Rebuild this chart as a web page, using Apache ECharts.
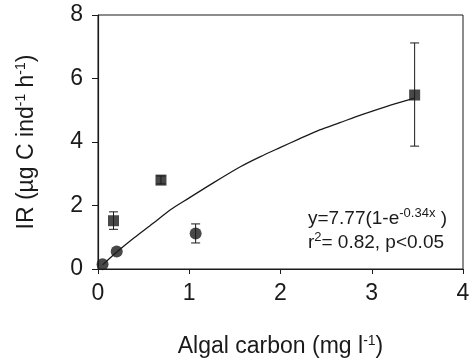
<!DOCTYPE html>
<html>
<head>
<meta charset="utf-8">
<script src="https://cdn.jsdelivr.net/npm/echarts@6/dist/echarts.min.js"></script>
<style>
  html, body { margin: 0; padding: 0; background: #fff; }
  #chart-container { width: 475px; height: 361px; }
</style>
</head>
<body>
<div id="chart-container"></div>
<script>
var dom = document.getElementById("chart-container");
var myChart = echarts.init(dom, null, { renderer: "canvas" });

// values
const xTicks = [0, 1, 2, 3, 4];
const yTicks = [0, 2, 4, 6, 8];

// circles: [x, y, low, high]  (low/high = error bar ends, null = none)
const circlePoints = [
  [0.05, 0.15, null, null],
  [0.205, 0.55, null, null],
  [1.07, 1.12, 0.82, 1.42],
];
// squares: [x, y, low, high]
const squarePoints = [
  [0.17, 1.52, 1.25, 1.8],
  [0.69, 2.8, 2.68, 2.93],
  [3.47, 5.48, 3.87, 7.12],
];
// fitted curve
const curveX = [0.05, 0.2, 0.4, 0.6, 0.79, 1.0, 1.25, 1.56, 1.78, 2.0, 2.2, 2.43, 2.65, 2.9, 3.15, 3.47];
const curveY = [0.13, 0.52, 0.99, 1.43, 1.86, 2.24, 2.69, 3.22, 3.54, 3.83, 4.09, 4.38, 4.61, 4.87, 5.11, 5.38];

const ink = "#1a1a1a";
const font = "Liberation Sans, Arial, sans-serif";

const errorBars = circlePoints.concat(squarePoints).filter((p) => p[2] !== null);

function renderErrorBar(params, api) {
  const x = api.value(0);
  const lo = api.coord([x, api.value(2)]);
  const hi = api.coord([x, api.value(3)]);
  const cap = 4.5;
  const st = { stroke: ink, lineWidth: 1 };
  return {
    type: "group",
    children: [
      { type: "line", shape: { x1: lo[0], y1: lo[1], x2: hi[0], y2: hi[1] }, style: st },
      { type: "line", shape: { x1: lo[0] - cap, y1: lo[1], x2: lo[0] + cap, y2: lo[1] }, style: st },
      { type: "line", shape: { x1: hi[0] - cap, y1: hi[1], x2: hi[0] + cap, y2: hi[1] }, style: st },
    ],
  };
}

var option = {
  animation: false,
  backgroundColor: "#fff",
  grid: {
    left: 98,
    right: 12,
    top: 15,
    bottom: 92,
    outerBoundsMode: "none",
    containLabel: false,
    show: true,
    borderColor: ink,
    borderWidth: 1,
  },
  xAxis: {
    type: "value",
    min: 0,
    max: 4,
    interval: 1,
    splitLine: { show: false },
    axisLine: { onZero: false, lineStyle: { color: ink, width: 1.2 } },
    axisTick: { show: true, inside: false, length: 5, lineStyle: { color: ink } },
    axisLabel: { color: ink, fontSize: 23, fontFamily: font, margin: 13 },
    name: "{a|Algal carbon (mg l}{s|-1}{a|)}",
    nameLocation: "middle",
    nameGap: 65,
    nameTextStyle: {
      rich: {
        a: { fontSize: 23, fontFamily: font, color: ink, lineHeight: 26 },
        s: { fontSize: 14, fontFamily: font, color: ink, lineHeight: 14, verticalAlign: "top" },
      },
    },
  },
  yAxis: {
    type: "value",
    min: 0,
    max: 8,
    interval: 2,
    splitLine: { show: false },
    axisLine: { onZero: false, lineStyle: { color: ink, width: 1.2 } },
    axisTick: { show: true, inside: false, length: 6, lineStyle: { color: ink } },
    axisLabel: { color: ink, fontSize: 23, fontFamily: font, margin: 15 },
    name: "{a|IR (µg C ind}{s|-1}{a| h}{s|-1}{a|)}",
    nameLocation: "middle",
    nameRotate: 90,
    nameGap: 58,
    nameTextStyle: {
      rich: {
        a: { fontSize: 23, fontFamily: font, color: ink, lineHeight: 26 },
        s: { fontSize: 14, fontFamily: font, color: ink, lineHeight: 14, verticalAlign: "top" },
      },
    },
  },
  graphic: [
    {
      type: "text",
      right: 28,
      top: 207,
      style: {
        text: "{a|y=7.77(1-e}{s|-0.34x}{a| )}\n{a|r}{s|2}{a|= 0.82, p<0.05}",
        align: "right",
        rich: {
          a: { fontSize: 19, fontFamily: font, fill: ink, lineHeight: 24 },
          s: { fontSize: 13, fontFamily: font, fill: ink, lineHeight: 13, verticalAlign: "top" },
        },
      },
    },
  ],
  series: [
    {
      type: "line",
      data: curveX.map((x, i) => [x, curveY[i]]),
      showSymbol: false,
      smooth: 0.3,
      lineStyle: { color: ink, width: 1.3 },
      z: 2,
    },
    {
      type: "custom",
      data: errorBars,
      renderItem: renderErrorBar,
      z: 3,
    },
    {
      type: "scatter",
      data: circlePoints.map((p) => [p[0], p[1]]),
      symbol: "circle",
      symbolSize: 12,
      itemStyle: { color: ink },
      z: 4,
    },
    {
      type: "scatter",
      data: squarePoints.map((p) => [p[0], p[1]]),
      symbol: "rect",
      symbolSize: 11,
      itemStyle: { color: ink },
      z: 4,
    },
  ],
};

myChart.setOption(option);
window.addEventListener("resize", myChart.resize);
</script>
</body>
</html>
